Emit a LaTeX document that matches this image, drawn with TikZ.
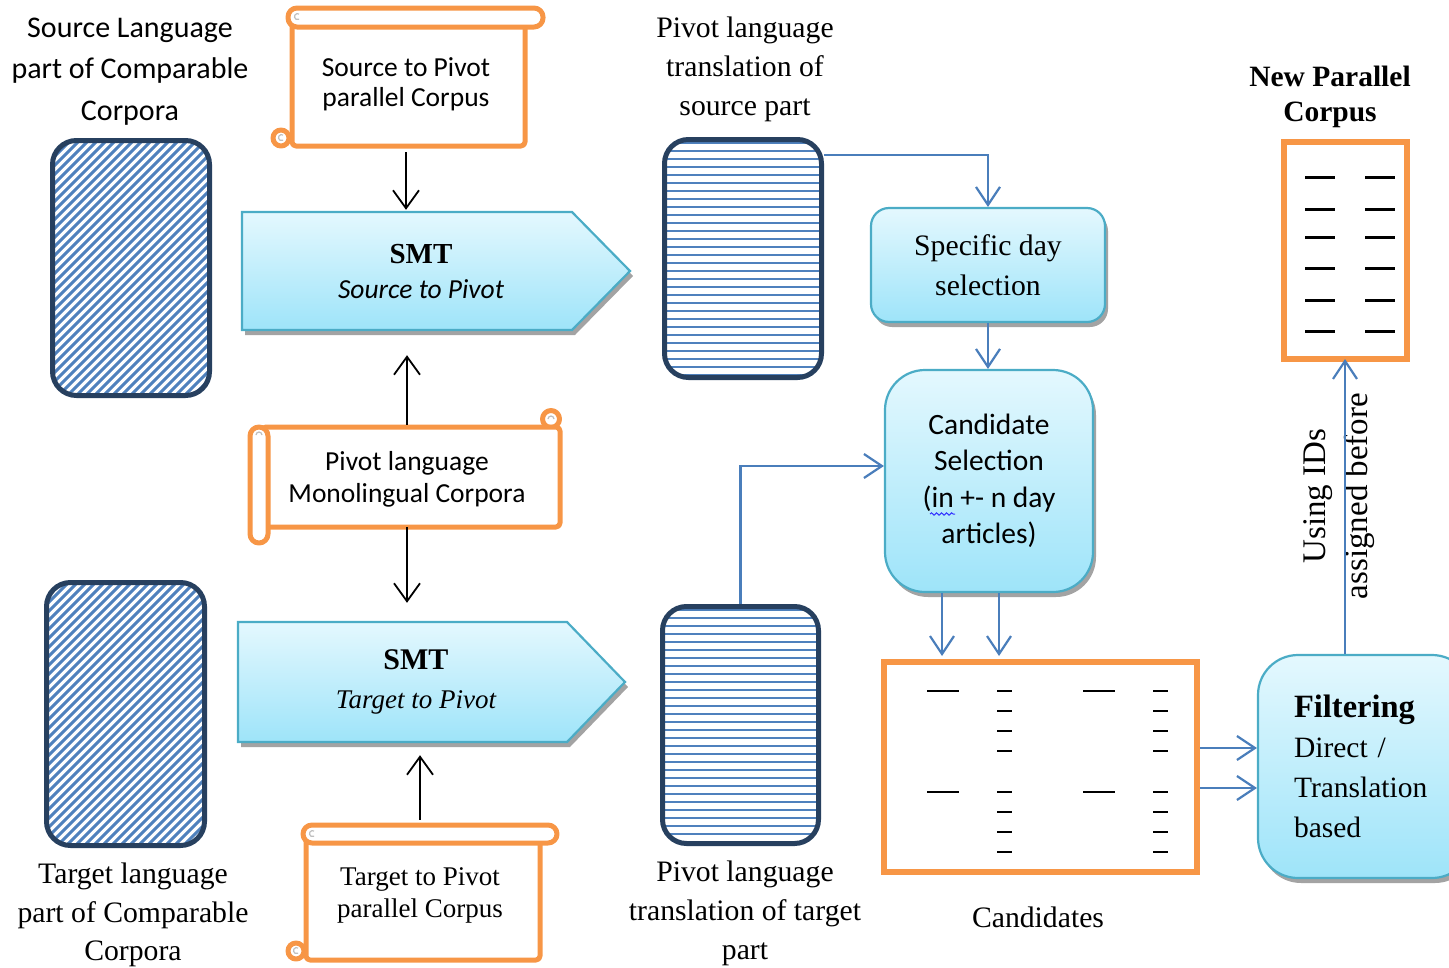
\documentclass[tikz,border=0pt]{standalone}
\usepackage{fontspec}
\setmainfont{Liberation Serif}
\newfontfamily\fcal{Carlito}
\usetikzlibrary{arrows.meta,shadows,decorations.pathmorphing,calc}
\definecolor{orng}{HTML}{F79646}
\definecolor{navy}{HTML}{27405F}
\definecolor{stripeblue}{HTML}{4F81BD}
\definecolor{cyanb}{HTML}{4BACC6}
\definecolor{gtop}{HTML}{E4F8FE}
\definecolor{gbot}{HTML}{9EE4F9}
\definecolor{lnblue}{HTML}{4A7EBB}
\definecolor{shgray}{HTML}{A3A3A3}
\tikzset{
  scrollline/.style={draw=orng, line width=5pt, fill=white, line join=round},
  curlmark/.style={draw=black!25, line width=1.2pt},
  blkarrow/.style={draw=black, line width=1.8pt, -{Straight Barb[length=18pt,width=26pt,line width=1.8pt]}},
  bluearrow/.style={draw=lnblue, line width=2.2pt, -{Straight Barb[length=18pt,width=24pt,line width=2.2pt]}},
  hbox/.style={draw=navy, line width=5pt, rounded corners=24pt, inner sep=0pt},
  dstripe/.style={draw=stripeblue, line width=3pt},
  hstripe/.style={draw=stripeblue, line width=2pt},
  shadowed/.style={drop shadow={shadow xshift=3pt, shadow yshift=-5pt, fill=shgray, opacity=1}},
  gfill/.style={draw=cyanb, line width=2.2pt, top color=gtop, bottom color=gbot, shadowed},
  gbox/.style={gfill, inner sep=0pt, align=center},
  obox/.style={draw=orng, line width=6pt, inner sep=0pt},
  npcline/.style={draw=black, line width=3pt},
  candline/.style={draw=black, line width=1.4pt},
  calib/.style={font=\fcal\fontsize{30}{41.5}\selectfont, align=center},
  tlbl/.style={font=\fontsize{29.7}{39}\selectfont, align=center},
}
\begin{document}
\begin{tikzpicture}[x=1pt,y=-1pt]
\useasboundingbox (0,0) rectangle (1449,967);
\clip (0,0) rectangle (1449,967);

% ---------- hatched corpora boxes ----------
\begin{scope}
  \clip[rounded corners=24pt] (52.5,140.5) rectangle (209.5,395.5);
  \foreach \i in {-216,-207,...,216} \draw[dstripe] (\i,400) -- ++(300,-300);
\end{scope}
\node[hbox, minimum width=157pt, minimum height=255pt] (srcA) at (131,268) {};

\begin{scope}
  \clip[rounded corners=24pt] (46.5,582.5) rectangle (204.5,845.5);
  \foreach \i in {-226,-217,...,210} \draw[dstripe] (\i,850) -- ++(300,-300);
\end{scope}
\node[hbox, minimum width=158pt, minimum height=263pt] (tgtB) at (125.5,714) {};

% ---------- horizontal-line boxes ----------
\begin{scope}
  \clip[rounded corners=24pt] (664.5,139.5) rectangle (821.5,377.5);
  \foreach \y in {143,151,...,377} \draw[hstripe] (660,\y) -- (826,\y);
\end{scope}
\node[hbox, minimum width=157pt, minimum height=238pt] (ptop) at (743,258.5) {};

\begin{scope}
  \clip[rounded corners=24pt] (662.5,606.5) rectangle (818.5,843.5);
  \foreach \y in {610,618,...,844} \draw[hstripe] (658,\y) -- (823,\y);
\end{scope}
\node[hbox, minimum width=156pt, minimum height=237pt] (pbot) at (740.5,725) {};

% ---------- scrolls ----------
% top scroll
\draw[scrollline, rounded corners=4pt] (292,18) rectangle (525,146);
\draw[scrollline, rounded corners=9pt] (288,8) rectangle (543,27);
\draw[scrollline] (281,138) circle[radius=8pt];
\draw[curlmark] (299,14) arc[start angle=60, end angle=300, radius=3pt];
\draw[curlmark] (283,135) arc[start angle=60, end angle=300, radius=3pt];
\node[font=\fcal\fontsize{27.5}{30}\selectfont, align=center, minimum height=123pt] (s2p) at (406,84.5) {Source to Pivot\\parallel Corpus};

% middle scroll
\draw[scrollline] (551,419) circle[radius=8.5pt];
\draw[scrollline, rounded corners=4pt] (262,427) rectangle (560,527);
\draw[scrollline, rounded corners=9pt] (250,427) rectangle (268,543);
\draw[curlmark] (262,435) arc[start angle=0, end angle=180, radius=3pt];
\draw[curlmark] (554,419) arc[start angle=0, end angle=180, radius=3pt];
\node[font=\fcal\fontsize{27.5}{32}\selectfont, align=center, minimum height=96pt] (pm) at (407,479) {Pivot language\\Monolingual Corpora};

% bottom scroll
\draw[scrollline, rounded corners=4pt] (306,834) rectangle (540,960);
\draw[scrollline, rounded corners=9pt] (303,825) rectangle (557,843);
\draw[scrollline] (296,951) circle[radius=8pt];
\draw[curlmark] (314,831) arc[start angle=60, end angle=300, radius=3pt];
\draw[curlmark] (298,948) arc[start angle=60, end angle=300, radius=3pt];
\node[font=\fontsize{27}{32}\selectfont, align=center, minimum height=130pt] (t2p) at (420,895) {Target to Pivot\\parallel Corpus};

% ---------- SMT arrows ----------
\path[gfill] (242,212) -- (572,212) -- (630,271) -- (572,330) -- (242,330) -- cycle;
\node[align=center, minimum height=118pt, font=\fontsize{29}{35}\selectfont] (smt1) at (421,271)
  {\bfseries SMT\\{\fcal\itshape\fontsize{27.5}{35}\selectfont Source to Pivot}};
\path[gfill] (238,622) -- (567,622) -- (625,682) -- (567,742) -- (238,742) -- cycle;
\node[align=center, minimum height=120pt, font=\fontsize{30}{39}\selectfont] (smt2) at (416,682)
  {\bfseries SMT\\{\itshape\fontsize{27}{39}\selectfont Target to Pivot}};

% ---------- process boxes ----------
\node[gbox, rounded corners=18pt, minimum width=234pt, minimum height=114pt, font=\fontsize{29.7}{40}\selectfont] (spec) at (988,265) {Specific day\\selection};
\node[gbox, rounded corners=40pt, minimum width=208pt, minimum height=222pt, font=\fcal\fontsize{29.5}{36.5}\selectfont] (cand) at (989,481) {Candidate\\Selection\\(in +- n day\\articles)};
\draw[draw=blue!80, line width=1pt, decorate, decoration={snake, amplitude=1.2pt, segment length=5pt}] (930,514) -- (955,514);
\node[gbox, rounded corners=40pt, minimum width=214pt, minimum height=223pt, align=left, text width=142pt, font=\fontsize{29.5}{40}\selectfont] (filt) at (1365,766.5)
  {{\bfseries\fontsize{32.5}{40}\selectfont Filtering}\\Direct /\\Translation\\based};

% ---------- candidates box ----------
\node[obox, minimum width=313pt, minimum height=210pt] (cbox) at (1040.5,767) {};
\foreach \y in {691,792} {
  \draw[candline] (927,\y) -- (959,\y);
  \draw[candline] (1083,\y) -- (1115,\y);
}
\foreach \y in {691,711,731,751,792,812,832,852} {
  \draw[candline] (997,\y) -- (1012,\y);
  \draw[candline] (1153,\y) -- (1168,\y);
}

% ---------- new parallel corpus ----------
\node[obox, minimum width=123pt, minimum height=217pt] (npc) at (1345.5,250.5) {};
\foreach \y in {177,209,237,268,300,331} {
  \draw[npcline] (1305,\y) -- (1335,\y);
  \draw[npcline] (1365,\y) -- (1395,\y);
}

% ---------- labels ----------
\node[calib] (srcLbl) at (130,71.5) {Source Language\\part of Comparable\\Corpora};
\node[font=\fontsize{29.7}{38.5}\selectfont, align=center] (tgtLbl) at (133,915) {Target language\\part of Comparable\\Corpora};
\node[tlbl] (ptopLbl) at (745,69) {Pivot language\\translation of\\source part};
\node[tlbl] (pbotLbl) at (745,913) {Pivot language\\translation of target\\part};
\node[tlbl] (candLbl) at (1038,917) {Candidates};
\node[font=\bfseries\fontsize{29.5}{35}\selectfont, align=center] (npcLbl) at (1330,97) {New Parallel\\Corpus};
\node[font=\fontsize{33}{42}\selectfont, align=center, rotate=90] (ids) at (1339,496) {Using IDs\\assigned before};

% ---------- connectors ----------
\draw[blkarrow, shorten <=6pt, shorten >=2pt] (s2p.south) -- (s2p.south |- smt1.north);
\draw[blkarrow, shorten <=6pt, shorten >=25pt] (pm.north) -- (pm.north |- smt1.south);
\draw[blkarrow, shorten >=19pt] (pm.south) -- (pm.south |- smt2.north);
\draw[blkarrow, shorten <=10pt, shorten >=13pt] (t2p.north) -- (t2p.north |- smt2.south);

\draw[bluearrow] ([yshift=-18pt]ptop.north east) -| (spec.north);
\draw[bluearrow] (spec.south) -- (spec.south |- cand.north);
\draw[bluearrow] (pbot.north) |- ([yshift=15pt]cand.west);
\draw[bluearrow, shorten >=3pt] ([xshift=-47pt]cand.south) -- ([xshift=-47pt]cand.south |- cbox.north);
\draw[bluearrow, shorten >=3pt] ([xshift=10pt]cand.south) -- ([xshift=10pt]cand.south |- cbox.north);
\draw[bluearrow] ([yshift=19pt]cbox.east) -- ([yshift=19pt]cbox.east -| filt.west);
\draw[bluearrow] ([yshift=-21pt]cbox.east) -- ([yshift=-21pt]cbox.east -| filt.west);
\draw[bluearrow, shorten >=-3pt] ([xshift=-20pt]filt.north) -- ([xshift=-20pt]filt.north |- npc.south);
\end{tikzpicture}
\end{document}
